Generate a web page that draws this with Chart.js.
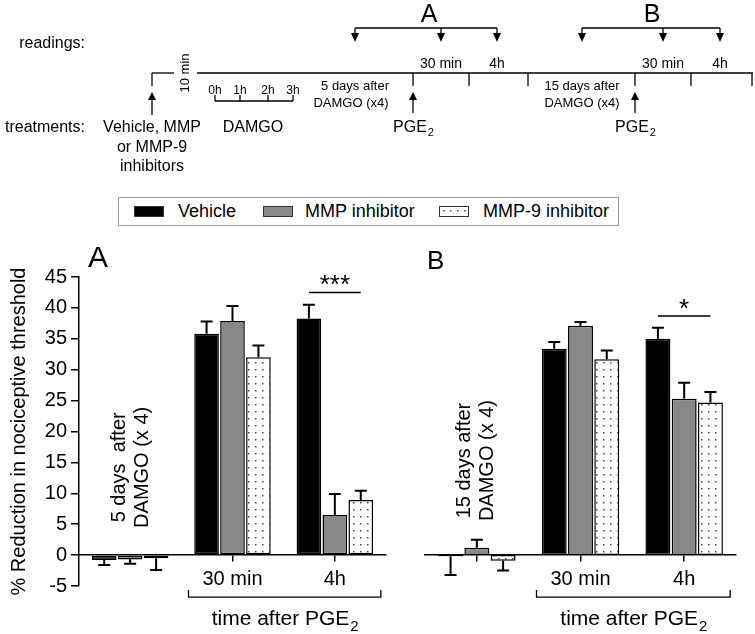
<!DOCTYPE html>
<html>
<head>
<meta charset="utf-8">
<script src="https://cdn.jsdelivr.net/npm/chart.js@4.4.1/dist/chart.umd.min.js"></script>
<style>
    body { margin: 0; background: #fff; }
    #page { position: relative; width: 755px; height: 634px; overflow: hidden; background: #fff; }
    #legend { position: absolute; left: 118px; top: 197px; width: 499px; height: 27px; border: 1px solid #999;
              font: 18px 'Liberation Sans', Arial, sans-serif; color: #000; }
    #legend .sw { position: absolute; top: 8px; width: 28px; height: 9px; border: 1px solid #333; }
    #legend .tx { position: absolute; top: 3px; line-height: 20px; white-space: nowrap; }
</style>
</head>
<body>
<div id="page">
    <canvas id="scheme" width="755" height="190" style="position:absolute;left:0;top:0"></canvas>
    <div id="legend"></div>
    <div style="position:absolute;left:0;top:240px;width:390px;height:394px"><canvas id="chartA"></canvas></div>
    <div style="position:absolute;left:390px;top:240px;width:365px;height:394px"><canvas id="chartB"></canvas></div>
</div>
<script>
// categories and series
const categories = ['', '30 min', '4h'];
const seriesNames = ['Vehicle', 'MMP inhibitor', 'MMP-9 inhibitor'];

// Panel A - 5 days after DAMGO
const vehicleA = [-0.8, 35.8, 38.3];
const mmpA = [-0.7, 37.9, 6.5];
const mmp9A = [-0.5, 32.0, 8.9];
const vehicleErrA = [0.8, 2.0, 2.2];
const mmpErrA = [0.7, 2.4, 3.4];
const mmp9ErrA = [1.9, 1.9, 1.5];

// Panel B - 15 days after DAMGO
const vehicleB = [-0.2, 33.4, 35.0];
const mmpB = [1.2, 37.1, 25.3];
const mmp9B = [-0.9, 31.7, 24.7];
const vehicleErrB = [3.0, 1.1, 1.8];
const mmpErrB = [1.3, 0.6, 2.6];
const mmp9ErrB = [1.6, 1.4, 1.7];

// y axis ticks
const yMin = -5, yMax = 45, yStep = 5;

const FONT = "'Liberation Sans', Arial, sans-serif";
Chart.defaults.font.family = FONT;
Chart.defaults.color = '#000';

//Dotted fill used for the MMP-9 inhibitor bars
const dotCanvas = document.createElement('canvas');
dotCanvas.width = 7; dotCanvas.height = 7;
const dc = dotCanvas.getContext('2d');
dc.fillStyle = '#fff'; dc.fillRect(0, 0, 7, 7);
dc.fillStyle = '#444'; dc.fillRect(3, 3, 1.5, 1.5);
const dotPattern = dc.createPattern(dotCanvas, 'repeat');

const seriesColors = ['#000000', '#888888', dotPattern];

//Builds the legend box on top of the two panels
const buildLegend = () => {
    const legend = document.getElementById('legend');
    const swX = [15, 144, 320];
    const txX = [59, 186, 364];
    const swBg = ['#000', '#888', 'url(' + dotCanvas.toDataURL() + ')'];
    seriesNames.forEach((name, i) => {
        const sw = document.createElement('div');
        sw.className = 'sw';
        sw.style.left = swX[i] + 'px';
        sw.style.background = swBg[i];
        legend.appendChild(sw);
        const tx = document.createElement('div');
        tx.className = 'tx';
        tx.style.left = txX[i] + 'px';
        tx.textContent = name;
        legend.appendChild(tx);
    });
}

//Draws text with a subscript part (PGE2)
const subText = (g, main, sub, x, y, size, align) => {
    g.font = size + 'px ' + FONT;
    const w1 = g.measureText(main).width;
    g.font = Math.round(size * 0.7) + 'px ' + FONT;
    const w2 = g.measureText(sub).width;
    let start = x;
    if (align == 'center') start = x - (w1 + w2) / 2;
    g.textAlign = 'left';
    g.font = size + 'px ' + FONT;
    g.fillText(main, start, y);
    g.font = Math.round(size * 0.7) + 'px ' + FONT;
    g.fillText(sub, start + w1 + 1, y + size * 0.3);
}

//Draws the experiment timeline at the top
const drawScheme = () => {
    const g = document.getElementById('scheme').getContext('2d');
    g.strokeStyle = '#000'; g.fillStyle = '#000'; g.lineWidth = 1.3;
    const line = (x1, y1, x2, y2) => { g.beginPath(); g.moveTo(x1, y1); g.lineTo(x2, y2); g.stroke(); };
    const upArrow = (x, tip, bottom) => {
        line(x, bottom, x, tip + 6);
        g.beginPath(); g.moveTo(x, tip); g.lineTo(x - 4, tip + 8); g.lineTo(x + 4, tip + 8); g.closePath(); g.fill();
    };
    const downArrow = (x, top, tip) => {
        line(x, top, x, tip - 6);
        g.beginPath(); g.moveTo(x, tip); g.lineTo(x - 4, tip - 9); g.lineTo(x + 4, tip - 9); g.closePath(); g.fill();
    };

    g.textBaseline = 'middle';
    g.font = '16px ' + FONT; g.textAlign = 'right';
    g.fillText('readings:', 85, 44);
    g.fillText('treatments:', 85, 128);

    //main time line
    line(152, 86, 152, 73); line(152, 73, 174, 73); line(197, 73, 753, 73);
    [413, 469, 528, 635, 691, 752].forEach(x => line(x, 73, x, 86));
    g.save(); g.translate(185, 73); g.rotate(-Math.PI / 2);
    g.font = '13px ' + FONT; g.textAlign = 'center';
    g.fillText('10 min', 0, 0);
    g.restore();

    //treatment arrows
    upArrow(152, 92, 115);
    upArrow(413, 92, 113);
    upArrow(635, 92, 113);
    g.font = '16px ' + FONT; g.textAlign = 'center';
    g.fillText('Vehicle, MMP', 152, 128);
    g.fillText('or MMP-9', 152, 148);
    g.fillText('inhibitors', 152, 167);
    g.fillText('DAMGO', 253, 128);
    subText(g, 'PGE', '2', 413, 128, 16, 'center');
    subText(g, 'PGE', '2', 635, 128, 16, 'center');

    //DAMGO hours bracket
    line(215, 101, 293, 101);
    [215, 240, 268, 293].forEach(x => line(x, 101, x, 95));
    g.font = '12px ' + FONT; g.textAlign = 'center';
    [['0h', 215], ['1h', 240], ['2h', 268], ['3h', 293]].forEach(t => g.fillText(t[0], t[1], 91));

    g.font = '13px ' + FONT;
    g.fillText('5 days after', 355, 86);
    g.fillText('DAMGO (x4)', 351, 103);
    g.fillText('15 days after', 582, 86);
    g.fillText('DAMGO (x4)', 582, 103);
    g.font = '14px ' + FONT;
    g.fillText('30 min', 441, 64); g.fillText('4h', 497, 64);
    g.fillText('30 min', 663, 64); g.fillText('4h', 720, 64);

    //reading brackets
    line(355, 28, 497, 28);
    [355, 441, 497].forEach(x => downArrow(x, 28, 42));
    line(582, 28, 720, 28);
    [582, 663, 720].forEach(x => downArrow(x, 28, 42));
    g.font = '25px ' + FONT;
    g.fillText('A', 429, 15);
    g.fillText('B', 652, 15);
}

//Draws error bars from the values stored in each dataset
const errorBarPlugin = {
    id: 'errorBars',
    afterDatasetsDraw(chart) {
        const ctx = chart.ctx;
        const y = chart.scales.y;
        chart.data.datasets.forEach((ds, i) => {
            chart.getDatasetMeta(i).data.forEach((bar, j) => {
                const v = ds.data[j];
                const e = ds.errors[j];
                const yEnd = y.getPixelForValue(v >= 0 ? v + e : v - e);
                ctx.save();
                ctx.strokeStyle = '#000';
                ctx.lineWidth = 2;
                ctx.beginPath();
                ctx.moveTo(bar.x, bar.y); ctx.lineTo(bar.x, yEnd);
                ctx.moveTo(bar.x - 6, yEnd); ctx.lineTo(bar.x + 6, yEnd);
                ctx.stroke();
                ctx.restore();
            });
        });
    }
};

//Panel letter, significance line, rotated note and the PGE2 bracket
const decoPlugin = {
    id: 'deco',
    afterDraw(chart, args, o) {
        const {ctx, chartArea} = chart;
        const x = chart.scales.x, y = chart.scales.y;
        ctx.save();
        ctx.fillStyle = '#000'; ctx.strokeStyle = '#000';
        ctx.font = o.letterSize + 'px ' + FONT;
        ctx.textAlign = 'left'; ctx.textBaseline = 'middle';
        ctx.fillText(o.letter, chartArea.left + o.letterDx, chartArea.top - o.letterDy);

        //significance
        const b0 = chart.getDatasetMeta(0).data[2];
        const b2 = chart.getDatasetMeta(2).data[2];
        const sy = y.getPixelForValue(o.sigY);
        ctx.lineWidth = 1.5;
        ctx.beginPath(); ctx.moveTo(b0.x, sy); ctx.lineTo(b2.x, sy); ctx.stroke();
        ctx.font = '26px ' + FONT; ctx.textAlign = 'center'; ctx.textBaseline = 'alphabetic';
        ctx.fillText(o.sigText, (b0.x + b2.x) / 2, sy + 1);

        //rotated note over the baseline group
        ctx.save();
        ctx.font = '20px ' + FONT;
        ctx.translate(x.getPixelForValue(0), y.getPixelForValue(o.noteY));
        ctx.rotate(-Math.PI / 2);
        ctx.textBaseline = 'middle';
        ctx.fillText(o.note[0], 0, o.noteDx[0]);
        ctx.fillText(o.note[1], 0, o.noteDx[1]);
        ctx.restore();

        //bracket for time after PGE2
        const bx1 = x.getPixelForValue(1) - 44;
        const bx2 = x.getPixelForValue(2) + 46;
        const by = y.getPixelForValue(0) + 42;
        ctx.lineWidth = 1.3;
        ctx.beginPath();
        ctx.moveTo(bx1, by - 7); ctx.lineTo(bx1, by); ctx.lineTo(bx2, by); ctx.lineTo(bx2, by - 7);
        ctx.stroke();
        ctx.textBaseline = 'alphabetic';
        subText(ctx, 'time after PGE', '2', (bx1 + bx2) / 2, by + 28, 21, 'center');
        ctx.restore();
    }
};

const makeDatasets = (vals, errs) => vals.map((v, i) => ({
    label: seriesNames[i],
    data: v,
    errors: errs[i],
    backgroundColor: seriesColors[i],
    borderColor: '#000',
    borderWidth: 1.5,
    borderSkipped: false,
    categoryPercentage: 0.76,
    barPercentage: 0.95
}));

const makeChart = (id, vals, errs, showY, yWidth, padding, deco) => {
    return new Chart(id, {
        type: 'bar',
        data: {
            labels: categories,
            datasets: makeDatasets(vals, errs)
        },
        options: {
            responsive: true,
            maintainAspectRatio: false,
            animation: false,
            devicePixelRatio: 1,
            layout: {padding: padding},
            plugins: {
                legend: {display: false},
                tooltip: {enabled: false},
                deco: deco
            },
            scales: {
                x: {
                    position: {y: 0},
                    grid: {offset: false, drawOnChartArea: false, drawTicks: true, tickLength: 6, color: '#000', lineWidth: 1.5},
                    border: {color: '#000', width: 1.5},
                    ticks: {font: {size: 20}, color: '#000', padding: 6, maxRotation: 0}
                },
                y: {
                    display: showY,
                    min: yMin,
                    max: yMax,
                    afterFit: (s) => { s.width = yWidth; },
                    ticks: {stepSize: yStep, font: {size: 20}, color: '#000', padding: 4},
                    grid: {drawOnChartArea: false, drawTicks: true, tickLength: 8, color: '#000', lineWidth: 1.5},
                    border: {color: '#000', width: 1.5},
                    title: {
                        display: true,
                        text: '% Reduction in nociceptive threshold',
                        font: {size: 20},
                        color: '#000',
                        padding: {top: 7, bottom: 0}
                    }
                }
            }
        },
        plugins: [errorBarPlugin, decoPlugin]
    });
}

buildLegend();
drawScheme();

makeChart('chartA', [vehicleA, mmpA, mmp9A], [vehicleErrA, mmpErrA, mmp9ErrA], true, 79,
    {left: 0, right: 4, top: 37, bottom: 48},
    {letter: 'A', letterSize: 30, letterDx: 9, letterDy: 18, sigY: 42.5, sigText: '***',
     note: ['5 days  after', 'DAMGO (x 4)'], noteY: 14.2, noteDx: [-11, 12]});

makeChart('chartB', [vehicleB, mmpB, mmp9B], [vehicleErrB, mmpErrB, mmp9ErrB], false, 0,
    {left: 35, right: 19, top: 37, bottom: 48},
    {letter: 'B', letterSize: 26, letterDx: 2, letterDy: 15, sigY: 38.7, sigText: '*',
     note: ['15 days after', 'DAMGO (x 4)'], noteY: 15.3, noteDx: [-12, 11]});
</script>
</body>
</html>
